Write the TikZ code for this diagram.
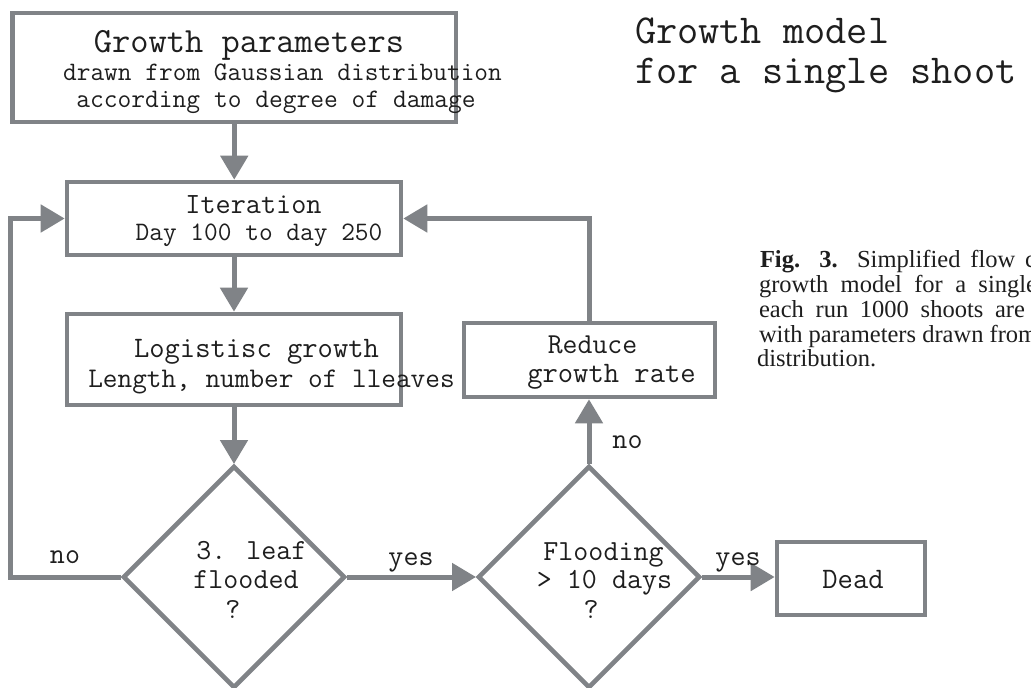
\documentclass[tikz,border=0pt]{standalone}
\usepackage{fontspec}
\setmainfont{Liberation Serif}
\usetikzlibrary{arrows.meta,shapes.geometric}
\definecolor{lc}{RGB}{128,131,135}
\definecolor{tc}{RGB}{30,30,30}
\newcommand\myfs[1]{\fontsize{#1}{#1}\selectfont}
\newcommand\tfs[1]{\fontsize{\fpeval{#1*8/7}pt}{#1pt}\selectfont}
\tikzset{
  box/.style={draw=lc,line width=4.6pt,inner sep=0pt,outer sep=2.3pt},
  dia/.style={shape=diamond,draw=lc,line width=4.6pt,inner sep=0pt,outer sep=2pt,
    minimum width=222pt,minimum height=222pt},
  arr/.style={draw=lc,line width=5pt,-{Triangle[length=24pt,width=27pt]}},
  tx/.style={inner sep=0pt,outer sep=0pt,text=tc,anchor=base,font=\ttfamily},
  captxt/.style={inner sep=0pt,outer sep=0pt,text=tc,anchor=base west,font=\rmfamily\myfs{24.5}}
}
\begin{document}
\begin{tikzpicture}[x=1pt,y=-1pt]
\useasboundingbox (0,0) rectangle (1031,688);
\clip (0,0) rectangle (1031,688);
\fill[white] (0,0) rectangle (1031,688);

% boxes
\node[box,minimum width=443.5pt,minimum height=109pt] (b1) at (234.25,67.5) {};
\node[box,minimum width=334pt,minimum height=73pt] (it) at (234,218.5) {};
\node[box,minimum width=334pt,minimum height=91pt] (lg) at (234,359.5) {};
\node[box,minimum width=251pt,minimum height=74pt] (rd) at (589.5,360) {};
\node[box,minimum width=148pt,minimum height=73pt] (dd) at (851,578.5) {};
\node[dia] (d1) at (234,577) {};
\node[dia] (d2) at (589,577) {};
\coordinate (c1) at (10,577);

% connectors
\draw[arr] (b1.south) -- (b1.south |- it.north);
\draw[arr] (it.south) -- (lg.north);
\draw[arr] (lg.south) -- (d1.north);
\draw[arr] (d1.east) -- (d2.west);
\draw[arr] (d2.east) -- (d2.east -| dd.west);
\draw[arr] (d2.north) -- (d2.north |- rd.south);
\draw[arr] (rd.north) |- (it.east);
\draw[arr] (d1.west) -- (c1) |- (it.west);

% texts
\node[tx,font=\ttfamily\tfs{31}] (t1) at (249,52) {Growth parameters};
\node[tx,font=\ttfamily\tfs{23.3}] (t2) at (282.5,80) {drawn from Gaussian distribution};
\node[tx,font=\ttfamily\tfs{23.4}] (t3) at (276,107) {according to degree of damage};
\node[tx,anchor=base west,font=\ttfamily\tfs{36}] (ti1) at (635,43) {Growth model};
\node[tx,anchor=base west,font=\ttfamily\tfs{36}] (ti2) at (635,83) {for a single shoot};
\node[tx,font=\ttfamily\tfs{25.7}] (i1) at (253.5,213) {Iteration};
\node[tx,font=\ttfamily\tfs{23.3}] (i2) at (259,240) {Day 100 to day 250};
\node[tx,font=\ttfamily\tfs{26}] (l1) at (256.5,357) {Logistisc growth};
\node[tx,font=\ttfamily\tfs{24.9}] (l2) at (271.5,387) {Length, number of lleaves};
\node[tx,font=\ttfamily\tfs{25.3}] (r1) at (592.5,353) {Reduce};
\node[tx,font=\ttfamily\tfs{26}] (r2) at (611.5,382) {growth rate};
\node[tx,font=\ttfamily\tfs{26}] (dt) at (853,588) {Dead};
\node[tx,font=\ttfamily\tfs{25.5}] (q1) at (251.5,559) {3. leaf};
\node[tx,font=\ttfamily\tfs{25.5}] (q2) at (246,588) {flooded};
\node[tx,font=\ttfamily\tfs{25.5}] (q3) at (233,618) {?};
\node[tx,font=\ttfamily\tfs{25.5}] (f1) at (603.5,560) {Flooding};
\node[tx,font=\ttfamily\tfs{25.5}] (f2) at (604.5,588) {> 10 days};
\node[tx,font=\ttfamily\tfs{25.5}] (f3) at (591,618) {?};
\node[tx,font=\ttfamily\tfs{25.5}] (n1) at (65,563) {no};
\node[tx,font=\ttfamily\tfs{25.5}] (y1) at (411,565) {yes};
\node[tx,font=\ttfamily\tfs{25.5}] (y2) at (738,565) {yes};
\node[tx,font=\ttfamily\tfs{25.5}] (n2) at (627.5,448) {no};

% caption
\node[captxt] (k1) at (760,267) {\makebox[276pt][s]{\textbf{Fig. 3.} Simplified flow c}};
\node[captxt] (k2) at (759,292) {\makebox[278pt][s]{growth model for a single}};
\node[captxt] (k3) at (759,317) {\makebox[266pt][s]{each run 1000 shoots are}};
\node[captxt] (k4) at (759,342) {with parameters drawn from};
\node[captxt] (k5) at (757,366) {distribution.};
\end{tikzpicture}
\end{document}
